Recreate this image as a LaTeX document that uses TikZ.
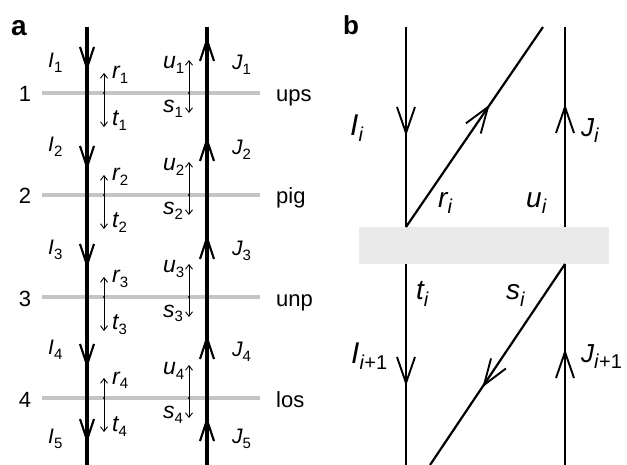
\documentclass[tikz,border=0pt]{standalone}
\usepackage{fontspec}
\setmainfont{Liberation Sans}
\usetikzlibrary{arrows.meta}
\definecolor{barg}{HTML}{C4C4C4}
\definecolor{boxg}{HTML}{E9EAE9}
\newcommand\lb[5]{{\fontsize{#3}{#3}\selectfont\itshape #1}{\raisebox{-#5pt}{\fontsize{#4}{#4}\selectfont #2}}}
\tikzset{
  thickline/.style={line width=3.1pt},
  bline/.style={line width=2.2pt},
  graybar/.style={line width=4pt, draw=barg},
  thinarr/.style={line width=0.9pt, -{Straight Barb[length=4.5pt,width=7pt]}},
  lab/.style={anchor=base west, inner sep=0pt},
  numlab/.style={inner sep=0pt, font=\fontsize{22}{22}\selectfont},
  vA/.pic={\draw[line width=2.2pt] (-21,-7) -- (0,0) -- (-21,7);},
  vB/.pic={\draw[line width=1.9pt] (-26,-9) -- (0,0) -- (-26,9);},
}
\begin{document}
\begin{tikzpicture}[x=1pt,y=-1pt]
\useasboundingbox (0,0) rectangle (627,465);
% ---------- panel a ----------
\node[lab, font=\fontsize{28}{28}\selectfont\bfseries] (pa) at (11,36) {a};
\foreach \y/\n/\w [count=\k] in {93/1/ups,195/2/pig,297/3/unp,398/4/los}{
  \draw[graybar] (42,\y) -- (260,\y);
  \node[numlab, anchor=base] (n\k) at (25,\y+9) {\n};
  \node[numlab, anchor=base west] (w\k) at (276,\y+9) {\w};
  \coordinate (rc\k) at (104,\y);
  \coordinate (rt\k) at (104,\y-20);
  \coordinate (tb\k) at (104,\y+34);
  \coordinate (uc\k) at (189,\y);
  \coordinate (ut\k) at (189,\y-33);
  \coordinate (sb\k) at (189,\y+20);
  \draw[thinarr] (rc\k) -- (rt\k);
  \draw[thinarr] (rc\k) -- (tb\k);
  \draw[thinarr] (uc\k) -- (ut\k);
  \draw[thinarr] (uc\k) -- (sb\k);
  \fill (rc\k) circle (1.2);
  \fill (uc\k) circle (1.2);
  \node[lab] (r\k) at (112,\y-14) {\lb{r}{\k}{23}{15}{5}};
  \node[lab] (t\k) at (112,\y+33) {\lb{t}{\k}{23}{15}{5}};
  \node[lab] (u\k) at (163,\y-24) {\lb{u}{\k}{23}{15}{5}};
  \node[lab] (s\k) at (163,\y+20) {\lb{s}{\k}{23}{15}{5}};
}
\foreach \b [count=\k] in {68,152,255,355,443}{
  \node[lab] (I\k) at (48,\b) {\lb{I}{\k}{21}{15}{5}};
}
\foreach \b [count=\k] in {70,155,256,356,443}{
  \node[lab] (J\k) at (232,\b) {\lb{J}{\k}{21}{15}{5}};
}
\coordinate (aLT) at (87,27);
\coordinate (aLB) at (87,465);
\coordinate (aRT) at (207,27);
\coordinate (aRB) at (207,465);
\draw[thickline] (aLT) -- (aLB);
\draw[thickline] (aRT) -- (aRB);
\foreach \t in {68,167,265,365,440} \pic[rotate=-90] at (87,\t) {vA};
\foreach \t in {40,140,238,338,420} \pic[rotate=90] at (207,\t) {vA};
% ---------- panel b ----------
\node[lab, font=\fontsize{26}{26}\selectfont\bfseries] (pb) at (343,35) {b};
\fill[boxg] (359,227) rectangle (609,264);
\coordinate (bLT) at (406,27);
\coordinate (bLm) at (406,227);
\coordinate (bLn) at (406,264);
\coordinate (bLB) at (406,465);
\coordinate (bRT) at (565,27);
\coordinate (bRm) at (565,227);
\coordinate (bRn) at (565,264);
\coordinate (bRB) at (565,465);
\coordinate (dT) at (543,27);
\coordinate (dB) at (430,465);
\draw[bline] (bLT) -- (bLm);
\draw[bline] (bLn) -- (bLB);
\draw[bline] (bRT) -- (bRm);
\draw[bline] (bRn) -- (bRB);
\draw[bline] (bLm) -- (dT);
\draw[bline] (bRn) -- (dB);
\pic[rotate=-90] at (406,133) {vB};
\pic[rotate=90] at (565,107) {vB};
\pic[rotate=-90] at (406,383) {vB};
\pic[rotate=90] at (565,352) {vB};
\pic[rotate=55.6] at (488,107) {vB};
\pic[rotate=236.1] at (484,385) {vB};
\node[lab] (Ii) at (350,136) {\lb{I}{\textit{i}}{30}{20}{6}};
\node[lab] (Ji) at (581,137) {\lb{J}{\textit{i}}{26}{20}{6}};
\node[lab] (ri) at (438,208) {\lb{r}{\textit{i}}{28}{20}{6}};
\node[lab] (ui) at (526,208) {\lb{u}{\textit{i}}{28}{20}{6}};
\node[lab] (ti) at (416,300) {\lb{t}{\textit{i}}{28}{20}{6}};
\node[lab] (si) at (506,300) {\lb{s}{\textit{i}}{28}{20}{6}};
\node[lab] (Ii1) at (351,363) {\lb{I}{\textit{i}+1}{30}{20}{6}};
\node[lab] (Ji1) at (581,362) {\lb{J}{\textit{i}+1}{26}{20}{6}};
\end{tikzpicture}
\end{document}
